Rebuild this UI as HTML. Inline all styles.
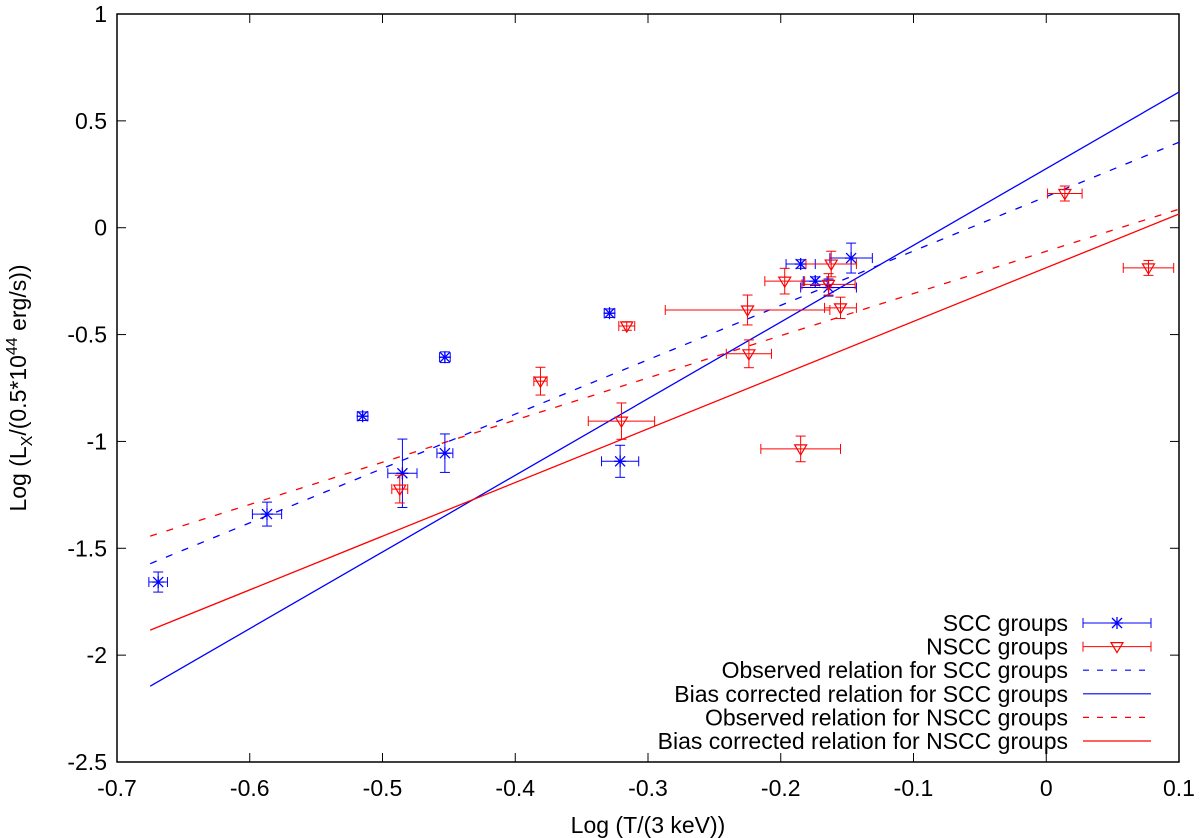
<!DOCTYPE html>
<html><head><meta charset="utf-8"><style>
body{margin:0;background:#fff}
svg{display:block;font-family:"Liberation Sans",sans-serif}
</style></head><body>
<svg id="c" width="1200" height="838"></svg>
<script>
const sccX=[-0.669,-0.587,-0.515,-0.453,-0.485,-0.453,-0.329,-0.321,-0.185,-0.174,-0.147,-0.164];
const sccY=[-1.658,-1.340,-0.882,-0.606,-1.149,-1.055,-0.400,-1.093,-0.170,-0.250,-0.142,-0.280];
const sccXe=[0.007,0.011,0.004,0.004,0.011,0.006,0.004,0.014,0.011,0.009,0.016,0.021];
const sccYe=[0.047,0.056,0.02,0.025,0.16,0.09,0.02,0.075,0.02,0.02,0.07,0.04];
const nsX=[-0.487,-0.381,-0.316,-0.225,-0.197,-0.162,-0.164,-0.155,-0.224,-0.320,-0.185,0.014,0.077];
const nsY=[-1.223,-0.718,-0.46,-0.385,-0.25,-0.170,-0.265,-0.375,-0.59,-0.905,-1.035,0.160,-0.188];
const nsXe=[0.006,0.005,0.006,0.062,0.015,0.019,0.02,0.012,0.017,0.025,0.03,0.013,0.019];
const nsYe=[0.065,0.065,0.02,0.07,0.06,0.06,0.05,0.05,0.065,0.085,0.06,0.035,0.035];
const lineNames=['observed-scc','bias-corrected-scc','observed-nscc','bias-corrected-nscc'];
const lineX0=[-0.675,-0.675,-0.675,-0.675];
const lineX1=[0.1,0.1,0.1,0.1];
const lineY0=[-1.572,-2.145,-1.443,-1.883];
const lineY1=[0.40,0.635,0.087,0.064];
const lineColors=['#0000ff','#0000ff','#ff0000','#ff0000'];
const lineDash=['7,10','', '7,10',''];
const xTicks=[-0.7,-0.6,-0.5,-0.4,-0.3,-0.2,-0.1,0,0.1];
const yTicks=[-2.5,-2,-1.5,-1,-0.5,0,0.5,1];
const legendLabels=['SCC groups','NSCC groups','Observed relation for SCC groups','Bias corrected relation for SCC groups','Observed relation for NSCC groups','Bias corrected relation for NSCC groups'];

const L=117,R=1179,T=14,B=762;
const FS=23;
const sx=v=>L+(v+0.7)/0.8*(R-L);
const sy=v=>T+(1-v)/3.5*(B-T);
const svg=document.getElementById('c');
const NS='http://www.w3.org/2000/svg';
function mk(t,a,p){const e=document.createElementNS(NS,t);for(const k in a)e.setAttribute(k,a[k]);(p||svg).appendChild(e);return e;}

xTicks.forEach((v,i)=>{
  const x=sx(v);
  mk('line',{x1:x,y1:B,x2:x,y2:B-9,stroke:'#000'});
  mk('line',{x1:x,y1:T,x2:x,y2:T+9,stroke:'#000'});
  const t=mk('text',{x:x,y:B+34,'text-anchor':'middle','font-size':FS});
  t.textContent=(v===0?'0':String(v));
  
  
});
yTicks.forEach(v=>{
  const y=sy(v);
  mk('line',{x1:L,y1:y,x2:L+9,y2:y,stroke:'#000'});
  mk('line',{x1:R,y1:y,x2:R-9,y2:y,stroke:'#000'});
  const t=mk('text',{x:L-10,y:y+8,'text-anchor':'end','font-size':FS});
  t.textContent=String(v);
  
  
});
const frame=mk('rect',{x:L,y:T,width:R-L,height:B-T,fill:'none',stroke:'#000','stroke-width':1.5});



lineNames.forEach((n,i)=>{
  const a={x1:sx(lineX0[i]),y1:sy(lineY0[i]),x2:sx(lineX1[i]),y2:sy(lineY1[i]),stroke:lineColors[i],'stroke-width':1.3};
  if(lineDash[i])a['stroke-dasharray']=lineDash[i];
  const e=mk('line',a);
  
  
});

function errbar(g,x,y,xe,ye,c){
  const X=sx(x),Y=sy(y),x0=sx(x-xe),x1=sx(x+xe),y0=sy(y-ye),y1=sy(y+ye);
  mk('line',{x1:x0,y1:Y,x2:x1,y2:Y,stroke:c},g);
  mk('line',{x1:x0,y1:Y-5,x2:x0,y2:Y+5,stroke:c},g);
  mk('line',{x1:x1,y1:Y-5,x2:x1,y2:Y+5,stroke:c},g);
  mk('line',{x1:X,y1:y0,x2:X,y2:y1,stroke:c},g);
  mk('line',{x1:X-5,y1:y0,x2:X+5,y2:y0,stroke:c},g);
  mk('line',{x1:X-5,y1:y1,x2:X+5,y2:y1,stroke:c},g);
}
function star(g,X,Y){
  const c='#0000ff';
  mk('line',{x1:X-6,y1:Y,x2:X+6,y2:Y,stroke:c,'stroke-width':1.3},g);
  mk('line',{x1:X,y1:Y-6,x2:X,y2:Y+6,stroke:c,'stroke-width':1.3},g);
  mk('line',{x1:X-5,y1:Y-5,x2:X+5,y2:Y+5,stroke:c,'stroke-width':1.3},g);
  mk('line',{x1:X-5,y1:Y+5,x2:X+5,y2:Y-5,stroke:c,'stroke-width':1.3},g);
}
function tri(g,X,Y){
  mk('path',{d:`M${X-6},${Y-4}L${X+6},${Y-4}L${X},${Y+6}Z`,fill:'none',stroke:'#ff0000','stroke-width':1.2},g);
}
sccX.forEach((x,i)=>{
  const g=mk('g',{});
  
  
  errbar(g,x,sccY[i],sccXe[i],sccYe[i],'#0000ff');
  star(g,sx(x),sy(sccY[i]));
});
nsX.forEach((x,i)=>{
  const g=mk('g',{});
  
  
  errbar(g,x,nsY[i],nsXe[i],nsYe[i],'#ff0000');
  tri(g,sx(x),sy(nsY[i]));
});

const lg=mk('g',{});


legendLabels.forEach((s,i)=>{
  const y=623+i*23.6;
  const t=mk('text',{x:1068,y:y+8,'text-anchor':'end','font-size':FS},lg);
  t.textContent=s;
  
  
  const a=1083,b=1151;
  if(i<2){
    const c=i===0?'#0000ff':'#ff0000';
    mk('line',{x1:a,y1:y,x2:b,y2:y,stroke:c},lg);
    mk('line',{x1:a,y1:y-5,x2:a,y2:y+5,stroke:c},lg);
    mk('line',{x1:b,y1:y-5,x2:b,y2:y+5,stroke:c},lg);
    if(i===0)star(lg,1117,y);else tri(lg,1117,y);
  } else {
    const k=i-2;
    const at={x1:a,y1:y,x2:b,y2:y,stroke:lineColors[k],'stroke-width':1.2};
    if(lineDash[k])at['stroke-dasharray']='6,8';
    mk('line',at,lg);
  }
});

const xt=mk('text',{x:648,y:833,'text-anchor':'middle','font-size':FS});
xt.textContent='Log (T/(3 keV))';


const yt=mk('text',{x:0,y:0,'text-anchor':'middle','font-size':FS,transform:'translate(26,388) rotate(-90)'});
yt.innerHTML='Log (L<tspan font-size="16" dy="6">X</tspan><tspan dy="-6">/(0.5*10</tspan><tspan font-size="16" dy="-9">44</tspan><tspan dy="9"> erg/s))</tspan>';


</script>
</body></html>
